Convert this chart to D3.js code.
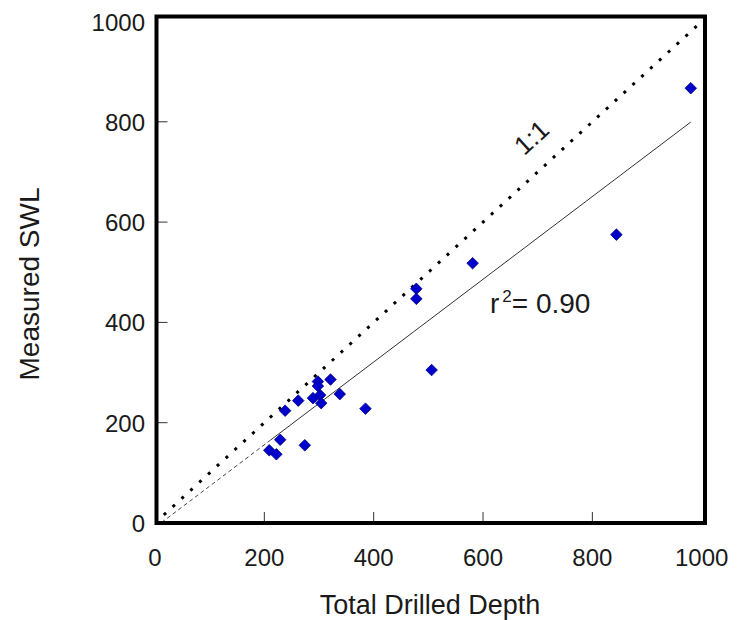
<!DOCTYPE html>
<html>
<head>
<meta charset="utf-8">
<script src="https://cdn.jsdelivr.net/npm/d3@7"></script>
<style>
  body { margin: 0; background: #fff; }
  text { font-family: "Liberation Sans", Arial, sans-serif; fill: #1a1a1a; }
</style>
</head>
<body>
<div id="chart"></div>
<script>
// values
const depth = [980, 844, 581, 478, 478, 506, 321, 298, 298, 338, 302, 289, 304, 262, 238, 385, 229, 274, 209, 222];
const swl   = [867, 575, 518, 467, 447, 305, 286, 282, 273, 257, 255, 249, 239, 244, 224, 228, 166, 155, 145, 137];
const xTicks = [0, 200, 400, 600, 800, 1000];
const yTicks = [0, 200, 400, 600, 800, 1000];
const fitSlope = 0.825;
const fitIntercept = -9;
const fitSolidFrom = 212, fitSolidTo = 980;
const fitDashFrom = 12;
const rSquared = "0.90";

const width = 737, height = 620;
const svg = d3.select("#chart").append("svg")
    .attr("width", width)
    .attr("height", height);

const x = d3.scaleLinear().domain([0, 1000]).range([155, 701.7]);
const y = d3.scaleLinear().domain([0, 1000]).range([523, 21.5]);

const frame = { left: 156.5, right: 705, top: 16.5, bottom: 523 };

svg.append("clipPath").attr("id", "plotClip")
    .append("rect")
    .attr("x", frame.left).attr("y", frame.top)
    .attr("width", frame.right - frame.left)
    .attr("height", frame.bottom - frame.top);

const plot = svg.append("g").attr("clip-path", "url(#plotClip)");

// inward ticks
svg.append("g").selectAll("line")
    .data(xTicks.slice(1, -1))
    .join("line")
    .attr("x1", d => x(d)).attr("x2", d => x(d))
    .attr("y1", frame.bottom).attr("y2", frame.bottom - 11)
    .attr("stroke", "#333").attr("stroke-width", 1);

svg.append("g").selectAll("line")
    .data(yTicks.slice(1, -1))
    .join("line")
    .attr("x1", frame.left).attr("x2", frame.left + 11)
    .attr("y1", d => y(d)).attr("y2", d => y(d))
    .attr("stroke", "#333").attr("stroke-width", 1);

// 1:1 line
plot.append("line")
    .attr("x1", x(0)).attr("y1", y(0))
    .attr("x2", x(1000)).attr("y2", y(1000))
    .attr("stroke", "#000")
    .attr("stroke-width", 3)
    .attr("stroke-dasharray", "3,9");

// regression: dashed extension + solid fit
const fit = v => fitIntercept + fitSlope * v;
plot.append("line")
    .attr("x1", x(fitDashFrom)).attr("y1", y(fit(fitDashFrom)))
    .attr("x2", x(fitSolidFrom)).attr("y2", y(fit(fitSolidFrom)))
    .attr("stroke", "#444")
    .attr("stroke-width", 1)
    .attr("stroke-dasharray", "4,3");

plot.append("line")
    .attr("x1", x(fitSolidFrom)).attr("y1", y(fit(fitSolidFrom)))
    .attr("x2", x(fitSolidTo)).attr("y2", y(fit(fitSolidTo)))
    .attr("stroke", "#333")
    .attr("stroke-width", 1);

// points
const diamond = d3.symbol().type(d3.symbolDiamond2).size(85);
plot.selectAll(".pt")
    .data(depth.map((d, i) => [d, swl[i]]))
    .join("path")
    .attr("class", "pt")
    .attr("d", diamond)
    .attr("transform", d => `translate(${x(d[0])},${y(d[1])})`)
    .attr("fill", "#0000cc")
    .attr("stroke", "#00007a")
    .attr("stroke-width", 0.8);

// frame
svg.append("rect")
    .attr("x", frame.left).attr("y", frame.top)
    .attr("width", frame.right - frame.left)
    .attr("height", frame.bottom - frame.top)
    .attr("fill", "none")
    .attr("stroke", "#000")
    .attr("stroke-width", 4);

// tick labels
svg.append("g").selectAll("text")
    .data(xTicks)
    .join("text")
    .attr("x", d => x(d))
    .attr("y", 566)
    .attr("text-anchor", "middle")
    .attr("font-size", "24px")
    .text(d => d);

svg.append("g").selectAll("text")
    .data(yTicks)
    .join("text")
    .attr("x", 145)
    .attr("y", d => y(d) + 9)
    .attr("text-anchor", "end")
    .attr("font-size", "24px")
    .text(d => d);

// axis titles
svg.append("text")
    .attr("x", 430)
    .attr("y", 614)
    .attr("text-anchor", "middle")
    .attr("font-size", "27px")
    .text("Total Drilled Depth");

svg.append("text")
    .attr("transform", "translate(39,284) rotate(-90)")
    .attr("text-anchor", "middle")
    .attr("font-size", "28px")
    .text("Measured SWL");

// annotations
const angle = Math.atan2(y(0) - y(1000), x(1000) - x(0)) * 180 / Math.PI;
svg.append("text")
    .attr("transform", `translate(533,139) rotate(${-angle})`)
    .attr("text-anchor", "middle")
    .attr("dominant-baseline", "middle")
    .attr("font-size", "26px")
    .text("1:1");

const r2 = svg.append("text")
    .attr("x", 490)
    .attr("y", 313)
    .attr("font-size", "28px");
r2.append("tspan").text("r");
r2.append("tspan").attr("font-size", "17px").attr("dx", 3).attr("dy", -11).text("2");
r2.append("tspan").attr("dy", 11).text("= " + rSquared);
</script>
</body>
</html>
